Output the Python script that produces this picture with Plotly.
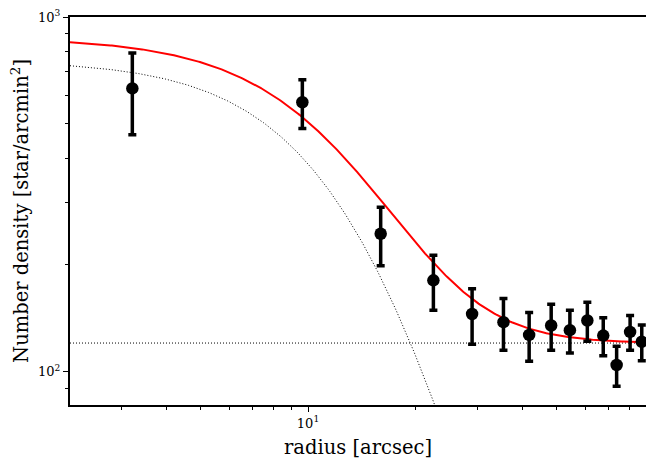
import numpy as np
import plotly.graph_objects as go

# Observed radial density profile
radius = [3.21, 9.64, 16.0, 22.5, 28.9, 35.4, 41.8, 48.2, 54.4, 60.9, 67.5, 73.6, 80.3, 86.6]
density = [629, 575, 245, 181, 145.5, 138, 127, 135, 131, 139.5, 126.5, 104.5, 129.5, 121.5]
density_err = [163, 90, 46, 32, 26, 23, 20, 20, 18, 17.5, 15.5, 13.5, 14.5, 14]

# Fitted profile parameters: f(r) = f0 / (1 + (r/a)^2)^2 + bg
f0 = 756.0
a_core = 15.8
bg = 120.5

x_range = [2.145, 89.0]
y_range = [80.6, 1000.0]

x_major = [10]
x_major_text = ["10<sup>1</sup>"]
x_minor = [3, 4, 5, 6, 7, 8, 9, 20, 30, 40, 50, 60, 70, 80]
y_major = [100, 1000]
y_major_text = ["10<sup>2</sup>", "10<sup>3</sup>"]
y_minor = [90, 200, 300, 400, 500, 600, 700, 800, 900]

r_model = np.geomspace(x_range[0], x_range[1], 400)
cluster = f0 / (1 + (r_model / a_core) ** 2) ** 2
total = cluster + bg

font_family = "DejaVu Serif"
title_size = 19.5

fig = go.Figure()
fig.add_trace(go.Scatter(x=r_model, y=cluster, mode="lines",
                         line=dict(color="black", width=1, dash="1px,2px"), hoverinfo="skip"))
fig.add_trace(go.Scatter(x=[x_range[0], x_range[1]], y=[bg, bg], mode="lines",
                         line=dict(color="black", width=1, dash="1px,2px"), hoverinfo="skip"))
fig.add_trace(go.Scatter(x=r_model, y=total, mode="lines",
                         line=dict(color="red", width=2)))
fig.add_trace(go.Scatter(x=radius, y=density, mode="markers",
                         marker=dict(color="black", size=12.5),
                         error_y=dict(type="data", array=density_err, color="black",
                                      thickness=3.5, width=4)))

axis_common = dict(showgrid=False, zeroline=False, showline=True, linecolor="black",
                   linewidth=2, ticks="outside", tickcolor="black", tickwidth=1,
                   automargin=False,
                   tickfont=dict(family=font_family, size=13, color="black"))

fig.update_xaxes(type="log", range=[np.log10(x_range[0]), np.log10(x_range[1])],
                 tickmode="array", tickvals=x_major, ticktext=x_major_text, ticklen=5,
                 mirror=True,
                 minor=dict(tickvals=x_minor, ticks="outside", ticklen=3, tickcolor="black", tickwidth=1),
                 **axis_common)
fig.update_yaxes(type="log", range=[np.log10(y_range[0]), np.log10(y_range[1])],
                 tickmode="array", tickvals=y_major, ticktext=y_major_text, ticklen=5,
                 minor=dict(tickvals=y_minor, ticks="outside", ticklen=3, tickcolor="black", tickwidth=1),
                 **axis_common)

fig.add_annotation(text="radius [arcsec]", xref="paper", yref="paper",
                   x=0.5, y=-0.11, xanchor="center", yanchor="middle", showarrow=False,
                   font=dict(family=font_family, size=title_size, color="black"))
fig.add_annotation(text="Number density [star/arcmin<sup>2</sup>]", xref="paper", yref="paper",
                   x=-0.087, y=0.5, xanchor="center", yanchor="middle", textangle=-90,
                   showarrow=False,
                   font=dict(family=font_family, size=title_size, color="black"))

fig.update_layout(width=646, height=462, showlegend=False,
                  margin=dict(l=70, r=0, t=17, b=57),
                  plot_bgcolor="white", paper_bgcolor="white",
                  font=dict(family=font_family, color="black"))

fig.write_html("out.html", config={"displayModeBar": False},
               post_script="document.body.style.margin='0';")
